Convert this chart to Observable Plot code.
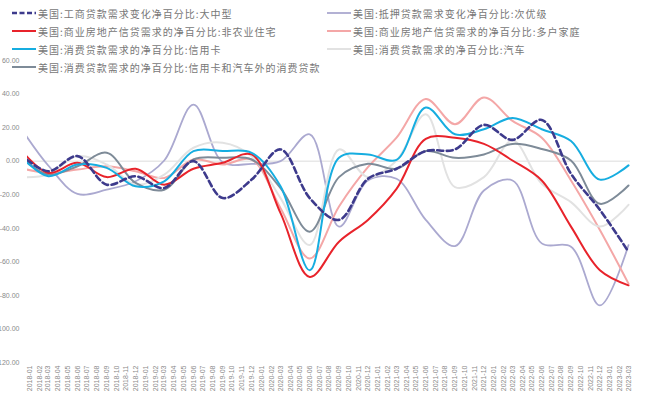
<!DOCTYPE html>
<html>
<head>
<meta charset="utf-8">
<script src="https://cdn.jsdelivr.net/npm/d3@7"></script>
<script src="https://cdn.jsdelivr.net/npm/@observablehq/plot@0.6"></script>
<style>
  body { margin: 0; background: #fff; }
  #wrap { position: relative; width: 665px; height: 396px; overflow: hidden; }
  #legend { position: absolute; left: 0; top: 0; width: 665px; height: 80px; pointer-events: none; }
  .item { position: absolute; display: flex; align-items: center; white-space: nowrap;
          font-family: "Noto Sans CJK SC", sans-serif; font-size: 10px; letter-spacing: 1px; color: #777; }
  .item svg { margin-right: 2px; }
</style>
</head>
<body>
<div id="wrap">
  <div id="chart"></div>
  <div id="legend"></div>
</div>
<script>
// Quarterly survey dates (quarter-end months)
const quarters = ["2017-12","2018-03","2018-06","2018-09","2018-12","2019-03","2019-06","2019-09","2019-12",
  "2020-03","2020-06","2020-09","2020-12","2021-03","2021-06","2021-09","2021-12",
  "2022-03","2022-06","2022-09","2022-12","2023-03"];

// Net percentage of banks reporting stronger demand
const ciLargeMid   = [4.5, -6, 3, -14, -9, -16, 0, -22, -11, 7, -22, -35, -10.5, -4.5, 6, 7, 21.6, 12.7, 24.6, -7.5, -29, -54];
const mortSubprime = [20.8, -2.6, -19.5, -17, -12, 0.4, 33.7, -0.6, -1.6, 0, 16, -39, -11.5, -10.5, -35, -50.6, -17.5, -11.5, -49, -51, -86, -50];
const creNonfarm   = [7.7, -7, -1, -9.5, -4.5, -14, -4.5, -1, 4, -31, -69, -48, -35, -16.5, 13.3, 14, 10.3, 0.4, -11.5, -39, -65, -74];
const creMultifam  = [-4, -7, -5, -3, -6, -10, 1, -2, 1, -28, -58, -27, -3.6, 14, 37, 22, 38, 24, 14, -11.5, -41, -73];
const ccCard       = [3.6, -9, -2, -4, -15, -12, 6, 6, 5, -15, -65, 2, 4, 0.8, 32, 16, 19, 25.8, 19, 12, -11, -2.5];
const ccAuto       = [-9.5, -8, 3, -2, -14, -8, 8, 11, 3, -22, -50, 7, -9.5, 0.4, 28, -15.5, -9.5, 12.3, -13.5, -24.4, -39, -26];
const ccOther      = [3.1, -8, -3, 5, -13, -17, 1, 2, 1, -16, -42, -9.5, -1.6, -4.5, 6, 2, 4, 10.3, 7.3, 0.4, -25.4, -14.5];

// Series names
const names = [
  "美国:工商贷款需求变化净百分比:大中型",
  "美国:抵押贷款需求变化净百分比:次优级",
  "美国:商业房地产信贷需求的净百分比:非农业住宅",
  "美国:商业房地产信贷需求的净百分比:多户家庭",
  "美国:消费贷款需求的净百分比:信用卡",
  "美国:消费贷款需求的净百分比:汽车",
  "美国:消费贷款需求的净百分比:信用卡和汽车外的消费贷款"
];

// Axis ticks
const yTicks = [-120, -100, -80, -60, -40, -20, 0, 20, 40, 60];
const xStart = "2018-01", xEnd = "2023-03";

const parse = d3.utcParse("%Y-%m");
const fmt = d3.utcFormat("%Y-%m");
const monthTicks = d3.utcMonth.range(parse(xStart), d3.utcMonth.offset(parse(xEnd), 1));

const styles = [
  {values: ciLargeMid,   stroke: "#3d3a8c", width: 2.6, dash: "6,3.5"},
  {values: mortSubprime, stroke: "#aba9d0", width: 1.8},
  {values: creNonfarm,   stroke: "#e8232b", width: 2},
  {values: creMultifam,  stroke: "#f4a7a7", width: 2},
  {values: ccCard,       stroke: "#16ade0", width: 2},
  {values: ccAuto,       stroke: "#e2e2e2", width: 2},
  {values: ccOther,      stroke: "#7e8b98", width: 2}
];
styles.forEach((s, i) => s.name = names[i]);

const rows = s => quarters.map((q, i) => ({date: parse(q), value: s.values[i]}));
const lineMark = s => Plot.line(rows(s), {
  x: "date", y: "value", curve: "catmull-rom", clip: true,
  stroke: s.stroke, strokeWidth: s.width, strokeDasharray: s.dash, strokeLinejoin: "round"
});

// draw order: lighter series underneath, dashed on top
const drawOrder = [1, 3, 5, 6, 2, 4, 0];

const chart = Plot.plot({
  width: 665, height: 396,
  marginLeft: 27, marginRight: 35, marginTop: 60, marginBottom: 34,
  style: {fontFamily: "Liberation Sans, sans-serif", fontSize: "7px", color: "#8a8a8a", background: "#fff"},
  x: {type: "utc", domain: [parse(xStart), parse(xEnd)], range: [29, 628], label: null},
  y: {domain: [-120, 60], label: null},
  marks: [
    Plot.ruleY([0], {stroke: "#dcdcdc", strokeWidth: 1}),
    Plot.axisY({ticks: yTicks, tickFormat: d => d.toFixed(2), tickSize: 0, tickPadding: 8, fontSize: 7, label: null}),
    Plot.axisX({ticks: monthTicks, tickFormat: fmt, tickRotate: -90, tickSize: 0, tickPadding: 3, fontSize: 7, label: null}),
    ...drawOrder.map(i => lineMark(styles[i]))
  ]
});
document.getElementById("chart").append(chart);

// Legend, two columns laid over the top of the chart
const legendPos = [
  [12, 13], [327, 13],
  [12, 31], [327, 31],
  [12, 49], [327, 49],
  [12, 67]
];
const legend = document.getElementById("legend");
styles.forEach((s, i) => {
  const [lx, ly] = legendPos[i];
  const div = document.createElement("div");
  div.className = "item";
  div.style.left = lx + "px";
  div.style.top = (ly - 8) + "px";
  div.style.height = "16px";
  const dash = s.dash ? ` stroke-dasharray="5,2.5"` : "";
  div.innerHTML = `<svg width="24" height="6"><line x1="0" x2="24" y1="3" y2="3" stroke="${s.stroke}" stroke-width="${s.width}"${dash}/></svg><span>${s.name}</span>`;
  legend.append(div);
});
</script>
</body>
</html>
